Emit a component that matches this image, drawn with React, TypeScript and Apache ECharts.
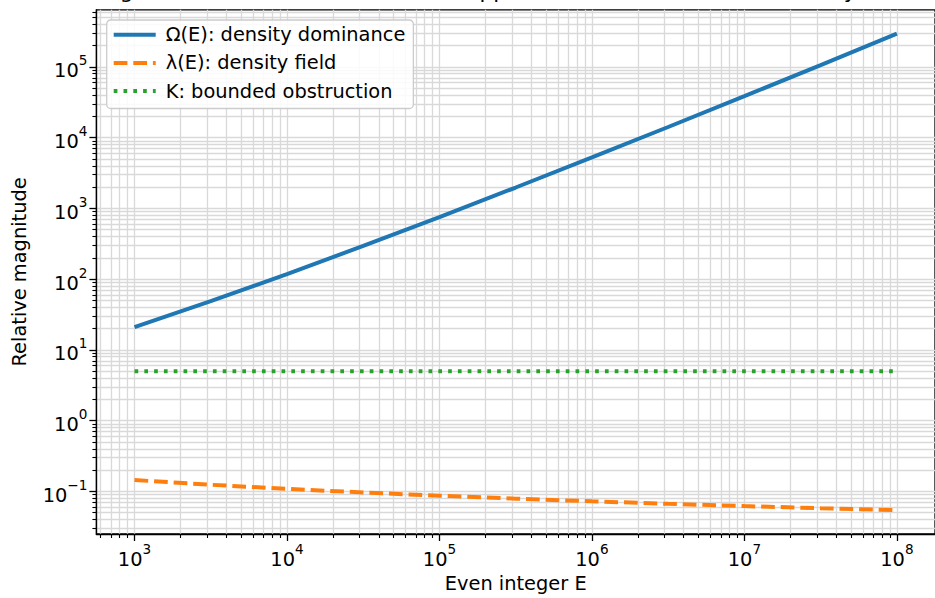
import React, { useEffect, useRef } from 'react';
import * as echarts from 'echarts';

// ---- data ----
const E_VALUES = [1e3, 3162, 1e4, 31623, 1e5, 316228, 1e6, 3162278, 1e7, 31622777, 1e8];
const OMEGA = [20.9, 48.7, 117.9, 294.5, 754.7, 1971, 5239, 14117, 38490, 106040, 294700];
const LAMBDA = [0.1448, 0.1241, 0.1086, 0.0965, 0.0869, 0.079, 0.0724, 0.0668, 0.062, 0.0579, 0.0543];
const K_BOUND = [5, 5, 5, 5, 5, 5, 5, 5, 5, 5, 5];

const SERIES_NAMES = ['Ω(E): density dominance', 'λ(E): density field', 'K: bounded obstruction'];
const TITLE = 'Log-scale dominance of Ω vs the suppression field and the K bound by even E';
const X_NAME = 'Even integer E';
const Y_NAME = 'Relative magnitude';

const X_MAJOR = [1e3, 1e4, 1e5, 1e6, 1e7, 1e8];
const X_MINOR = [
  600, 700, 800, 900,
  2e3, 3e3, 4e3, 5e3, 6e3, 7e3, 8e3, 9e3,
  2e4, 3e4, 4e4, 5e4, 6e4, 7e4, 8e4, 9e4,
  2e5, 3e5, 4e5, 5e5, 6e5, 7e5, 8e5, 9e5,
  2e6, 3e6, 4e6, 5e6, 6e6, 7e6, 8e6, 9e6,
  2e7, 3e7, 4e7, 5e7, 6e7, 7e7, 8e7, 9e7,
];
const Y_MAJOR = [1e-1, 1e0, 1e1, 1e2, 1e3, 1e4, 1e5];
const Y_MINOR = [
  0.03, 0.04, 0.05, 0.06, 0.07, 0.08, 0.09,
  0.2, 0.3, 0.4, 0.5, 0.6, 0.7, 0.8, 0.9,
  2, 3, 4, 5, 6, 7, 8, 9,
  20, 30, 40, 50, 60, 70, 80, 90,
  200, 300, 400, 500, 600, 700, 800, 900,
  2e3, 3e3, 4e3, 5e3, 6e3, 7e3, 8e3, 9e3,
  2e4, 3e4, 4e4, 5e4, 6e4, 7e4, 8e4, 9e4,
  2e5, 3e5, 4e5, 5e5, 6e5,
];

const X_MIN = 562.34;
const X_MAX = 1.7783e8;
const Y_MIN = 0.025;
const Y_MAX = 6.4e5;

const FONT = 'DejaVu Sans';
const FS = 19.4;
const GRID_COLOR = '#d9d9d9';

function sciLabel(v: number): string {
  const e = Math.round(Math.log10(v));
  const s = e < 0 ? '\u2212' + String(-e) : String(e);
  return '{b|10}{s|' + s + '}';
}

const RICH = {
  b: { fontSize: FS, lineHeight: 27, verticalAlign: 'bottom', fontFamily: FONT, color: '#000' },
  s: { fontSize: 13.6, lineHeight: 15, verticalAlign: 'top', fontFamily: FONT, color: '#000' },
};

export default function App() {
  const ref = useRef<HTMLDivElement>(null);
  useEffect(() => {
    if (!ref.current) return;
    const chart = echarts.init(ref.current, undefined, { renderer: 'svg' });
    const pairs = (ys: number[]) => E_VALUES.map((e, i) => [e, ys[i]]);
    const axisLineStyle = { color: '#000', width: 1.3 };
    const splitLine = { show: true, lineStyle: { color: GRID_COLOR, width: 1.3 } };
    chart.setOption({
      animation: false,
      backgroundColor: '#fff',
      grid: {
        left: 96.4,
        right: -11.6,
        top: 9.8,
        bottom: 59.5,
        show: true,
        borderColor: '#000',
        borderWidth: 1.3,
        backgroundColor: 'transparent',
      },
      graphic: [
        {
          type: 'text',
          x: 516,
          y: -10,
          style: {
            text: TITLE,
            fontSize: 21.6,
            fontFamily: FONT,
            fill: '#000',
            textAlign: 'center',
            textVerticalAlign: 'middle',
          },
        },
      ],
      legend: {
        orient: 'vertical',
        left: 106.7,
        top: 20,
        itemWidth: 42,
        itemHeight: 18,
        itemGap: 9.1,
        padding: [5.3, 8, 8, 5],
        backgroundColor: 'rgba(255,255,255,0.85)',
        borderColor: '#cccccc',
        borderWidth: 1.3,
        borderRadius: 4,
        itemStyle: { opacity: 0 },
        lineStyle: { width: 4 },
        textStyle: { fontSize: FS, color: '#000', fontFamily: FONT, padding: [0, 0, 0, 5] },
        data: SERIES_NAMES,
      },
      xAxis: [
        {
          type: 'log',
          logBase: 10,
          min: X_MIN,
          max: X_MAX,
          position: 'bottom',
          name: X_NAME,
          nameLocation: 'middle',
          nameGap: 40,
          nameTextStyle: { fontSize: FS, color: '#000', fontFamily: FONT },
          axisLine: { show: true, onZero: false, lineStyle: axisLineStyle },
          axisTick: { show: true, length: 7, lineStyle: axisLineStyle, customValues: X_MAJOR },
          axisLabel: { customValues: X_MAJOR, formatter: sciLabel, rich: RICH, margin: 8 },
          splitLine,
          minorTick: { show: false },
        },
        {
          type: 'log',
          logBase: 10,
          min: X_MIN,
          max: X_MAX,
          position: 'bottom',
          axisLine: { show: false, onZero: false },
          axisTick: { show: true, length: 4, lineStyle: { color: '#000', width: 1.1 }, customValues: X_MINOR },
          axisLabel: { show: false },
          splitLine,
        },
      ],
      yAxis: [
        {
          type: 'log',
          logBase: 10,
          min: Y_MIN,
          max: Y_MAX,
          position: 'left',
          name: Y_NAME,
          nameLocation: 'middle',
          nameGap: 67,
          nameRotate: 90,
          nameTextStyle: { fontSize: FS, color: '#000', fontFamily: FONT },
          axisLine: { show: true, onZero: false, lineStyle: axisLineStyle },
          axisTick: { show: true, length: 7, lineStyle: axisLineStyle, customValues: Y_MAJOR },
          axisLabel: { customValues: Y_MAJOR, formatter: sciLabel, rich: RICH, margin: 9 },
          splitLine,
        },
        {
          type: 'log',
          logBase: 10,
          min: Y_MIN,
          max: Y_MAX,
          position: 'left',
          axisLine: { show: false, onZero: false },
          axisTick: { show: true, length: 4, lineStyle: { color: '#000', width: 1.1 }, customValues: Y_MINOR },
          axisLabel: { show: false },
          splitLine,
        },
      ],
      series: [
        {
          name: SERIES_NAMES[0],
          type: 'line',
          data: pairs(OMEGA),
          symbol: 'none',
          color: '#1f77b4',
          lineStyle: { color: '#1f77b4', width: 4 },
          z: 3,
        },
        {
          name: SERIES_NAMES[1],
          type: 'line',
          data: pairs(LAMBDA),
          symbol: 'none',
          color: '#ff7f0e',
          lineStyle: { color: '#ff7f0e', width: 4, type: [13.7, 5.9] },
          z: 3,
        },
        {
          name: SERIES_NAMES[2],
          type: 'line',
          data: pairs(K_BOUND),
          symbol: 'none',
          color: '#2ca02c',
          lineStyle: { color: '#2ca02c', width: 4, type: [3.7, 6.1] },
          z: 3,
        },
      ],
    });
    return () => chart.dispose();
  }, []);
  return (
    <div
      ref={ref}
      style={{ position: 'fixed', left: 0, top: 0, width: 935, height: 598, background: '#fff' }}
    />
  );
}
